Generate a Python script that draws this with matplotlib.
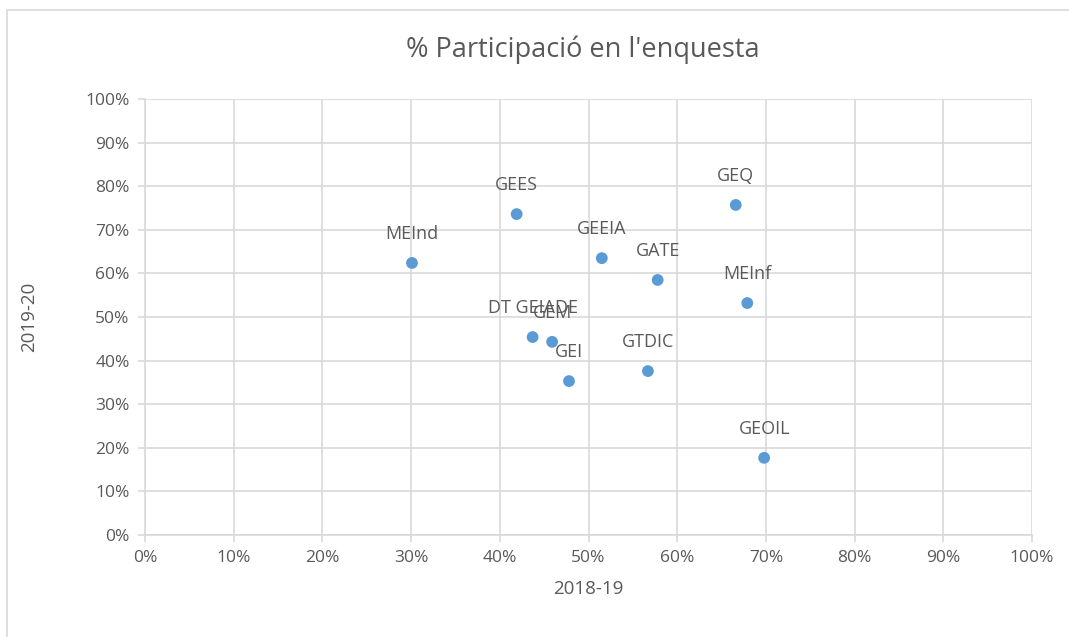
import matplotlib
matplotlib.use("Agg")
import matplotlib.pyplot as plt
from matplotlib.patches import Rectangle
from matplotlib.ticker import MultipleLocator, FuncFormatter

labels = ["MEInd", "GEES", "GEQ", "GEEIA", "GATE", "MEInf", "DT GEIADE", "GEM", "GEI", "GTDIC", "GEOIL"]
x_2018_19 = [0.301, 0.419, 0.666, 0.515, 0.578, 0.679, 0.437, 0.459, 0.478, 0.567, 0.698]
y_2019_20 = [0.624, 0.736, 0.757, 0.635, 0.585, 0.532, 0.454, 0.443, 0.353, 0.376, 0.177]

plt.rcParams['font.family'] = ['Open Sans', 'DejaVu Sans']
txt = '#595959'
grid = '#D9D9D9'

fig = plt.figure(figsize=(10.69, 6.37), dpi=100)
fig.patches.append(Rectangle((7/1069, -0.01), 1.2, 1 - 10/637 + 0.01, transform=fig.transFigure,
                             fill=False, edgecolor=grid, linewidth=1.2))
ax = fig.add_axes([145/1069, (637-535)/637, (1032-145)/1069, (535-99)/637])
ax.set_xlim(0, 1)
ax.set_ylim(0, 1)
ax.xaxis.set_major_locator(MultipleLocator(0.1))
ax.yaxis.set_major_locator(MultipleLocator(0.1))
fmt = FuncFormatter(lambda v, p: f"{round(v*100)}%")
ax.xaxis.set_major_formatter(fmt)
ax.yaxis.set_major_formatter(fmt)
ax.grid(True, color=grid, linewidth=1.2)
ax.set_axisbelow(True)
for s in ['top', 'right']:
    ax.spines[s].set_visible(False)
for s in ['left', 'bottom']:
    ax.spines[s].set_color(grid)
    ax.spines[s].set_linewidth(1.2)
ax.tick_params(colors=grid, labelcolor=txt, labelsize=12.5, length=5, width=1.2, pad=6)

ax.scatter(x_2018_19, y_2019_20, s=72, color='#5B9BD5', zorder=3, edgecolors='none')
for lab, xv, yv in zip(labels, x_2018_19, y_2019_20):
    ax.annotate(lab, (xv, yv), xytext=(0, 29), textcoords='offset pixels',
                ha='center', va='center', fontsize=13, color=txt)

ax.set_xlabel("2018-19", fontsize=13.5, color=txt, labelpad=10)
ax.set_ylabel("2019-20", fontsize=13.5, color=txt, labelpad=34)
fig.text((145+1032)/2/1069 - 0.005, 1 - 50/637, "% Participació en l'enquesta", ha='center', va='center',
         fontsize=19.5, color=txt)

fig.savefig("out.png", dpi=100)
